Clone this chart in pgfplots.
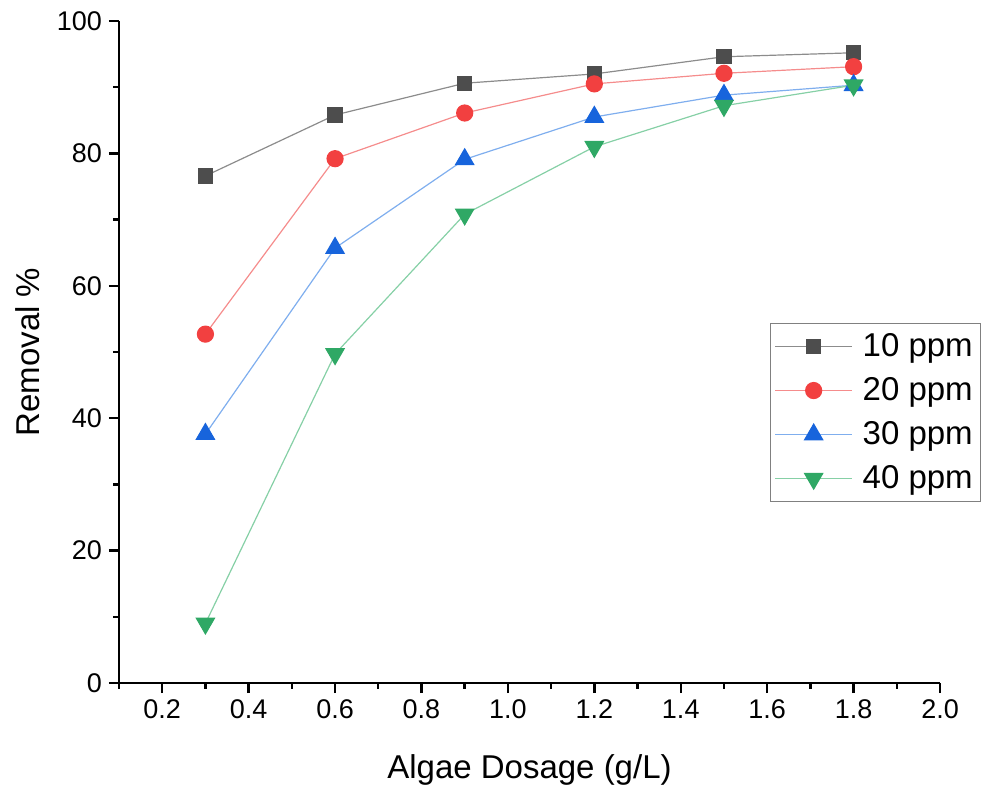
\documentclass[border=0pt]{standalone}
\usepackage{pgfplots}
\pgfplotsset{compat=1.18}
\usepackage{fontspec}
\setmainfont{Liberation Sans}
\usetikzlibrary{plotmarks}

\definecolor{sqfill}{HTML}{4D4D4D}
\definecolor{sqline}{HTML}{8C8C8C}
\definecolor{cifill}{HTML}{F24040}
\definecolor{ciline}{HTML}{F58C8C}
\definecolor{trfill}{HTML}{1764DC}
\definecolor{trline}{HTML}{7FAEEE}
\definecolor{tdfill}{HTML}{2FA865}
\definecolor{tdline}{HTML}{86D0A6}

\begin{document}
\begin{tikzpicture}
\begin{axis}[
  width=410.5pt, height=331pt,
  scale only axis,
  xmin=0.1, xmax=2.0,
  ymin=0, ymax=100,
  axis x line=bottom, axis y line=left,
  axis line style={line width=1.2pt, -},
  tick align=outside,
  major tick length=5pt, minor tick length=2.8pt,
  every tick/.style={line width=1.2pt, black},
  xtick={0.2,0.4,...,2.0},
  minor xtick={0.1,0.3,...,1.9},
  ytick={0,20,...,100},
  minor ytick={10,30,...,90},
  xticklabel style={/pgf/number format/fixed, /pgf/number format/fixed zerofill, /pgf/number format/precision=1},
  /pgf/number format/assume math mode=true,
  tick label style={font=\fontsize{13.5}{16}\selectfont},
  label style={font=\fontsize{16.5}{19}\selectfont},
  xlabel={Algae Dosage (g/L)},
  ylabel={Removal \%},
  xlabel style={at={(axis description cs:0.5,-0.131)}, anchor=center},
  ylabel style={at={(axis description cs:-0.111,0.5)}, anchor=center},
  clip=false,
  legend style={
    at={(rel axis cs:0.793,0.544)}, anchor=north west,
    draw=gray, line width=0.6pt,
    font=\fontsize{16.5}{19}\selectfont,
    row sep=5pt, inner xsep=2pt, inner ysep=3pt,
    cells={anchor=west},
    /tikz/every odd column/.append style={column sep=3pt},
  },
  legend image code/.code={
    \draw[#1, mark=none] (0cm,0cm) -- (1.35cm,0cm);
    \path[#1] plot coordinates {(0.675cm,0cm)};
  },
]
\addplot[color=sqline, line width=0.6pt, mark=square*, mark size=3.5pt,
  mark options={fill=sqfill, draw=sqfill}]
  coordinates {(0.3,76.6) (0.6,85.8) (0.9,90.6) (1.2,92.0) (1.5,94.6) (1.8,95.2)};
\addlegendentry{10 ppm}
\addplot[color=ciline, line width=0.6pt, mark=*, mark size=4pt,
  mark options={fill=cifill, draw=cifill}]
  coordinates {(0.3,52.7) (0.6,79.2) (0.9,86.1) (1.2,90.5) (1.5,92.1) (1.8,93.1)};
\addlegendentry{20 ppm}
\addplot[color=trline, line width=0.6pt, mark=triangle*, mark size=5.2pt,
  mark options={fill=trfill, draw=trfill}]
  coordinates {(0.3,37.6) (0.6,65.7) (0.9,79.1) (1.2,85.5) (1.5,88.8) (1.8,90.3)};
\addlegendentry{30 ppm}
\addplot[color=tdline, line width=0.6pt, mark=triangle*, mark size=5.2pt,
  mark options={fill=tdfill, draw=tdfill, rotate=180}]
  coordinates {(0.3,9.0) (0.6,49.7) (0.9,70.8) (1.2,81.0) (1.5,87.2) (1.8,90.3)};
\addlegendentry{40 ppm}
\end{axis}
\pgfresetboundingbox
\path ([xshift=-59.5pt,yshift=-55.5pt]current axis.south west)
  rectangle ([xshift=21pt,yshift=10.5pt]current axis.north east);
\end{tikzpicture}
\end{document}
